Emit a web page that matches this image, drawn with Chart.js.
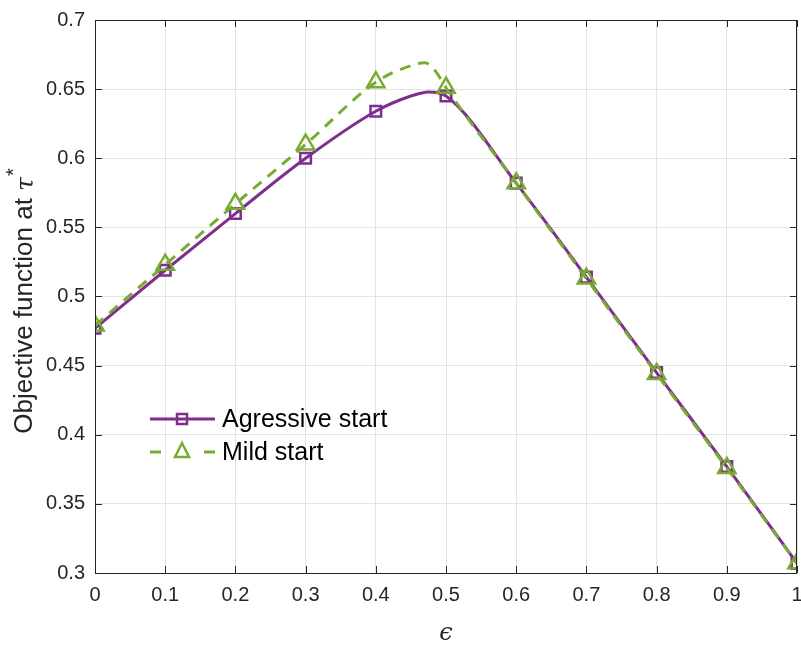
<!DOCTYPE html>
<html>
<head>
<meta charset="utf-8">
<script src="https://cdn.jsdelivr.net/npm/chart.js@4.4.1/dist/chart.umd.min.js"></script>
<style>
  html, body { margin: 0; padding: 0; background: #fff; }
</style>
</head>
<body>
<canvas id="chart" width="801" height="646"></canvas>
<script>
// axis ticks
const xTicks = [0, 0.1, 0.2, 0.3, 0.4, 0.5, 0.6, 0.7, 0.8, 0.9, 1];
const xTickLabels = ['0', '0.1', '0.2', '0.3', '0.4', '0.5', '0.6', '0.7', '0.8', '0.9', '1'];
const yTicks = [0.3, 0.35, 0.4, 0.45, 0.5, 0.55, 0.6, 0.65, 0.7];
const yTickLabels = ['0.3', '0.35', '0.4', '0.45', '0.5', '0.55', '0.6', '0.65', '0.7'];

// where the markers sit
const markerEps = [0, 0.1, 0.2, 0.3, 0.4, 0.5, 0.6, 0.7, 0.8, 0.9, 1];

// series
const aggEps = [0, 0.1, 0.2, 0.3, 0.4, 0.45, 0.475, 0.5, 0.6, 0.7, 0.8, 0.9, 1];
const aggVal = [0.477, 0.519, 0.560, 0.600, 0.634, 0.645, 0.648, 0.645, 0.582, 0.514, 0.445, 0.377, 0.307];
const mildEps = [0, 0.1, 0.2, 0.3, 0.4, 0.45, 0.47, 0.485, 0.5, 0.6, 0.7, 0.8, 0.9, 1];
const mildVal = [0.479, 0.523, 0.567, 0.610, 0.655, 0.667, 0.669, 0.663, 0.651, 0.582, 0.513, 0.444, 0.376, 0.307];

const PURPLE = '#7E2F8E';
const GREEN = '#77AC30';
const AXIS = '#262626';
const FONT = '"Liberation Sans", Arial, Helvetica, sans-serif';

function toXY(xs, ys) {
  return xs.map((x, i) => ({ x: x, y: ys[i] }));
}

function markerRadius(r) {
  return ctx => (ctx.raw && markerEps.includes(ctx.raw.x)) ? r : 0;
}

// box, inward ticks, axis titles and legend, MATLAB style
const matlabAxes = {
  id: 'matlabAxes',
  afterDraw(chart) {
    const ctx = chart.ctx;
    const a = chart.chartArea;
    const xs = chart.scales.x, ys = chart.scales.y;
    ctx.save();
    ctx.strokeStyle = AXIS;
    ctx.lineWidth = 1;
    ctx.strokeRect(a.left + 0.5, a.top + 0.5, a.right - a.left - 1, a.bottom - a.top);
    ctx.beginPath();
    xTicks.forEach(v => {
      const px = Math.round(xs.getPixelForValue(v)) + 0.5;
      ctx.moveTo(px, a.bottom); ctx.lineTo(px, a.bottom - 7);
      ctx.moveTo(px, a.top); ctx.lineTo(px, a.top + 7);
    });
    yTicks.forEach(v => {
      const py = Math.round(ys.getPixelForValue(v)) + 0.5;
      ctx.moveTo(a.left, py); ctx.lineTo(a.left + 7, py);
      ctx.moveTo(a.right, py); ctx.lineTo(a.right - 7, py);
    });
    ctx.stroke();

    // x title
    ctx.fillStyle = AXIS;
    ctx.textAlign = 'center';
    ctx.textBaseline = 'middle';
    ctx.font = 'italic 24px "DejaVu Serif", serif';
    ctx.fillText('\u03f5', (a.left + a.right) / 2, 634);

    // y title with superscript
    ctx.translate(25, (a.top + a.bottom) / 2 + 5);
    ctx.rotate(-Math.PI / 2);
    ctx.textBaseline = 'middle';
    ctx.textAlign = 'left';
    const main = 'Objective function at ';
    ctx.font = '26px ' + FONT;
    const w1 = ctx.measureText(main).width;
    ctx.font = 'italic 25px "DejaVu Serif", serif';
    const w2 = ctx.measureText('\u03c4').width;
    ctx.font = '20px ' + FONT;
    const w3 = ctx.measureText('*').width;
    let x0 = -(w1 + w2 + w3) / 2;
    ctx.font = '26px ' + FONT;
    ctx.fillText(main, x0, 0);
    ctx.font = 'italic 25px "DejaVu Serif", serif';
    ctx.fillText('\u03c4', x0 + w1, 1);
    ctx.font = '20px ' + FONT;
    ctx.fillText('*', x0 + w1 + w2 + 1, -11);
    ctx.restore();

    // legend inside plot
    ctx.save();
    ctx.lineWidth = 3;
    ctx.strokeStyle = PURPLE;
    ctx.beginPath(); ctx.moveTo(150, 419); ctx.lineTo(215, 419); ctx.stroke();
    ctx.lineWidth = 2.5;
    ctx.strokeRect(177, 414, 10, 10);
    ctx.strokeStyle = GREEN;
    ctx.lineWidth = 3;
    ctx.beginPath();
    ctx.moveTo(150, 452); ctx.lineTo(161, 452);
    ctx.moveTo(204, 452); ctx.lineTo(215, 452);
    ctx.stroke();
    ctx.lineWidth = 2.5;
    ctx.beginPath();
    ctx.moveTo(182, 443); ctx.lineTo(189, 457); ctx.lineTo(175, 457); ctx.closePath();
    ctx.stroke();
    ctx.fillStyle = '#000';
    ctx.font = '25px ' + FONT;
    ctx.textAlign = 'left';
    ctx.textBaseline = 'middle';
    ctx.fillText('Agressive start', 222, 420);
    ctx.fillText('Mild start', 222, 453);
    ctx.restore();
  }
};

new Chart(document.getElementById('chart'), {
  type: 'line',
  data: {
    datasets: [{
      label: 'Mild start',
      data: toXY(mildEps, mildVal),
      borderColor: GREEN,
      borderWidth: 3,
      borderDash: [11, 8],
      pointStyle: 'triangle',
      pointRadius: markerRadius(10),
      pointBorderWidth: 2.5,
      pointBorderColor: GREEN,
      pointBackgroundColor: 'rgba(0,0,0,0)',
      cubicInterpolationMode: 'monotone',
      fill: false,
      order: 0
    }, {
      label: 'Agressive start',
      data: toXY(aggEps, aggVal),
      borderColor: PURPLE,
      borderWidth: 3,
      pointStyle: 'rect',
      pointRadius: markerRadius(7.5),
      pointBorderWidth: 2.5,
      pointBorderColor: PURPLE,
      pointBackgroundColor: 'rgba(0,0,0,0)',
      cubicInterpolationMode: 'monotone',
      fill: false,
      order: 1
    }]
  },
  options: {
    responsive: false,
    animation: false,
    layout: { autoPadding: false, padding: { top: 20, right: 4, left: 0, bottom: 0 } },
    plugins: {
      legend: { display: false },
      tooltip: { enabled: false }
    },
    scales: {
      x: {
        type: 'linear',
        min: 0,
        max: 1,
        afterBuildTicks: s => { s.ticks = xTicks.map(v => ({ value: v })); },
        afterFit: s => { s.height = 73; s.paddingLeft = 0; s.paddingRight = 0; },
        ticks: {
          callback: (v, i) => xTickLabels[i],
          color: AXIS,
          font: { family: FONT, size: 20 },
          padding: 10,
          maxRotation: 0,
          autoSkip: false
        },
        grid: { color: '#e3e3e3', drawTicks: false },
        border: { display: false }
      },
      y: {
        type: 'linear',
        min: 0.3,
        max: 0.7,
        afterBuildTicks: s => { s.ticks = yTicks.map(v => ({ value: v })); },
        afterFit: s => { s.width = 95; s.paddingTop = 0; s.paddingBottom = 0; },
        ticks: {
          callback: (v, i) => yTickLabels[i],
          color: AXIS,
          font: { family: FONT, size: 20 },
          padding: 10,
          autoSkip: false
        },
        grid: { color: '#e3e3e3', drawTicks: false },
        border: { display: false }
      }
    }
  },
  plugins: [matlabAxes]
});
</script>
</body>
</html>
